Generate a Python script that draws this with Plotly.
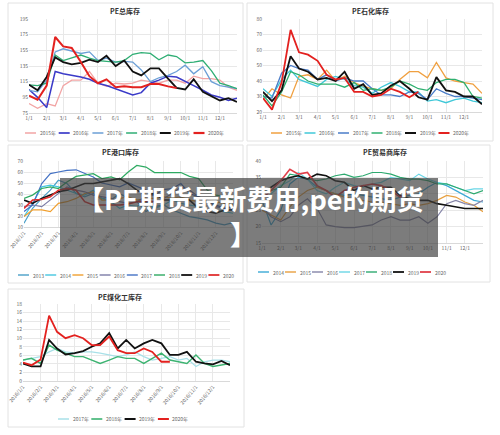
import plotly.graph_objects as go

# ---------------- data ----------------
DATES = ["2020-01-01", "2020-01-16", "2020-02-01", "2020-02-16", "2020-03-01", "2020-03-16",
         "2020-04-01", "2020-04-16", "2020-05-01", "2020-05-16", "2020-06-01", "2020-06-16",
         "2020-07-01", "2020-07-16", "2020-08-01", "2020-08-16", "2020-09-01", "2020-09-16",
         "2020-10-01", "2020-10-16", "2020-11-01", "2020-11-16", "2020-12-01", "2020-12-16",
         "2020-12-31"]
MONTH_TICKS = ["2020-%02d-01" % m for m in range(1, 13)]
TICK_MD = ["1/1", "2/1", "3/1", "4/1", "5/1", "6/1", "7/1", "8/1", "9/1", "10/1", "11/1", "12/1"]
TICK_2018 = ["2018/1/1", "2018/2/1", "2018/3/1", "2018/4/1", "2018/5/1", "2018/6/1",
             "2018/7/1", "2018/8/1", "2018/9/1", "2018/10/1", "2018/11/1", "2018/12/1"]
TICK_2016 = ["2016/1/1", "2016/2/1", "2016/3/1", "2016/4/1", "2016/5/1", "2016/6/1",
             "2016/7/1", "2016/8/1", "2016/9/1", "2016/10/1", "2016/11/1", "2016/12/1"]

# PE总库存
P1_2015 = [87, 81, 87, 84, 110, 117, 117, 128, 113, 109, 113, 112, 113, 117, 115, 113, 117, 117, 113, 122, 119, 119, 117, 108, 104]
P1_2016 = [105, 95, 82, 128, 125, 123, 121, 118, 113, 110, 106, 102, 98, 101, 113, 117, 122, 121, 115, 110, 104, 98, 95, 91, 94]
P1_2017 = [104, 102, 117, 153, 157, 154, 151, 153, 142, 145, 140, 141, 140, 130, 115, 120, 123, 128, 136, 125, 134, 115, 110, 108, 106]
P1_2018 = [111, 110, 113, 149, 142, 145, 149, 145, 142, 141, 140, 142, 150, 152, 151, 143, 149, 147, 139, 140, 142, 129, 113, 110, 106]
P1_2019 = [111, 104, 121, 146, 140, 137, 139, 143, 140, 148, 135, 142, 128, 123, 132, 132, 119, 107, 105, 118, 102, 97, 91, 94, 89]
P1_2020 = [97, 92, 110, 172, 160, 158, 140, 122, 113, 118, 108, 109, 108, 108, 112, 112, 109, 107]

# PE石化库存
P2_2015 = [28, 35, 31, 29, 43, 44, 41, 47, 40, 43, 39, 36.5, 35, 34, 35, 41, 46, 46, 42, 52, 42, 40, 39, 38, 32]
P2_2016 = [35, 30, 41, 47, 41, 39, 36.5, 41, 43, 41, 37, 36, 32, 36, 39, 36.5, 33, 33, 27, 28, 26, 28, 29, 27, 26]
P2_2017 = [30, 29, 45, 50, 48, 47, 41, 44, 40, 42, 40, 40, 35, 31, 31, 30, 33, 32, 28, 35, 32, 30, 30, 29, 28]
P2_2018 = [31, 24, 33, 46, 44, 40, 38, 38, 38, 36, 39, 34, 35, 34, 36, 40, 38, 35, 34, 39, 41, 41, 39, 30, 29]
P2_2019 = [33, 27, 34, 56, 48, 46, 41, 42, 40, 46, 35, 38, 31, 32, 37, 40, 35, 29.5, 28, 42.5, 34, 33, 30, 30, 25]
P2_2020 = [29, 21.5, 39, 73, 58.5, 57, 53, 44, 41, 42, 33, 33, 30, 31, 35, 33, 29.5, 33]

# PE港口库存
P3_2013 = [13.5, 27, 36, 43.5, 52.5, 49.5, 40.5, 37.5, 40.5, 36, 34.5, 40.5, 36, 33, 24, 28.5, 30, 25.5, 22.5, 19.5, 18, 16.5, 13.5, 12, 14]
P3_2014 = [19.5, 31.5, 46.5, 48, 46.5, 43.5, 40.5, 39, 43.5, 36, 33, 27, 30, 28.5, 33, 27, 30, 34.5, 31.5, 30, 28.5, 24, 25.5, 24, 22.5]
P3_2015 = [19.5, 25.5, 25.5, 24, 31.5, 33, 36, 40.5, 42, 34.5, 34.5, 36, 37.5, 34.5, 36, 36, 37.5, 36, 37.5, 34.5, 33, 34.5, 33, 31.5, 30]
P3_2016 = [28.5, 30, 28.5, 34.5, 40.5, 46.5, 43.5, 42, 39, 37.5, 36, 33, 31.5, 33, 37.5, 39, 36, 40.5, 46.5, 43.5, 37.5, 34.5, 28.5, 27, 28.5]
P3_2017 = [24, 30, 49.5, 58.5, 60, 61.5, 62, 58.5, 55.5, 50, 48, 46.5, 50, 46.5, 43.5, 39, 44, 45, 49.5, 40.5, 37.5, 34.5, 30, 27, 25.5]
P3_2018 = [36, 39, 45, 46.5, 45, 51, 56, 57, 58.5, 54, 55.5, 53, 60, 66, 64.5, 59.5, 59.5, 60, 59.5, 56, 54, 43.5, 39, 37.5, 34.5]
P3_2019 = [34.5, 31.5, 36, 39, 42, 43.5, 46.5, 49.5, 49.5, 51, 52, 54, 49.5, 43.5, 39, 40.5, 34.5, 34.5, 36, 34.5, 27, 24, 22.5, 25.5, 25.5]
P3_2020 = [27, 34.5, 35, 37.5, 43.5, 45, 43.5, 33, 30, 30, 30, 30, 31, 33, 33.5, 33, 34.5]

# PE贸易商库存
P4_2014 = [28, 20.5, 25, 33, 35, 34.5, 32, 31, 30, 29.5, 30, 29.5, 29, 28.5, 28, 29, 29.5, 30, 32, 33.5, 32.5, 31, 29.5, 28, 27.5]
P4_2015 = [25, 23.5, 22, 26, 29, 31, 32, 31, 30, 29, 28.5, 28, 27.5, 27.5, 27, 26.5, 27, 26.5, 27, 28, 29.5, 29, 27.5, 26.5, 24.5]
P4_2016 = [26, 23, 21.5, 23, 26.5, 28.5, 25.5, 20.5, 20, 19.7, 19.7, 20, 20.5, 22, 23, 22, 22, 23, 21, 23, 27, 28, 27, 26.5, 28]
P4_2017 = [31.5, 30, 32.5, 34, 36.5, 34.5, 31, 30, 32, 33.5, 32.5, 32, 33, 33.5, 35, 34.5, 34, 36, 34.5, 33.5, 33, 32, 31, 31.5, 31.5]
P4_2018 = [30, 31, 32, 36, 35.5, 34.5, 34, 34.5, 35.5, 36, 35, 35.5, 36.5, 36.5, 36, 35, 34.5, 34.5, 34, 33, 33, 32, 31, 30, 31]
P4_2019 = [31, 32, 34, 35, 35.5, 34.5, 36, 35.5, 34, 33.5, 31, 32.5, 31.5, 32, 32, 29.5, 28.5, 28, 28, 27, 26.5, 26, 25.5, 25.5, 25.5]
P4_2020 = [28.5, 31, 34, 37.5, 36, 36.5, 32.5, 31, 29, 31, 32, 32.5, 33, 32.5, 31, 29, 30.5, 31]

# PE煤化工库存
P5_2017 = [4.9, 5.3, 5.7, 6.8, 7.6, 6.8, 6.5, 6.8, 6.8, 6.5, 6.1, 5.7, 6.1, 6.8, 5.7, 4.9, 5.3, 5.7, 4.9, 5.3, 3.4, 4.5, 4.9, 4.9, 4.5]
P5_2018 = [4.9, 5.3, 4.1, 8.4, 7.2, 6.5, 5.7, 5.7, 4.9, 4.1, 4.9, 5.7, 5.3, 5.3, 4.1, 5.3, 6.5, 4.9, 4.5, 4.1, 6.1, 4.1, 3.4, 3.7, 4.1]
P5_2019 = [4.1, 3.4, 3.4, 9.6, 7.6, 6.2, 6.5, 7, 8, 8.8, 11.2, 7.6, 9.6, 7.6, 8.8, 9.6, 8.8, 6.1, 6.1, 6.8, 4.5, 4.1, 3.9, 4.7, 3.7]
P5_2020 = [4.3, 3.7, 5, 15.3, 11.5, 10, 10.7, 10, 8.4, 8.4, 10.4, 7.2, 6.5, 6.5, 7.6, 6.8, 4.5, 4.5]

TITLES = ["PE总库存", "PE石化库存", "PE港口库存", "PE贸易商库存", "PE煤化工库存"]

# ---------------- layout helpers ----------------
W, H = 500, 435
FONT = "Noto Sans CJK SC, Noto Sans, sans-serif"


def px(x):
    return x / W


def py(y):
    return 1 - y / H


panels = [
    dict(box=(8, 3, 243, 141), plot=(29, 19, 237, 113), yr=[75, 195], dt=20, ticks=TICK_MD, angle=0,
         title=(125, 11), leg=(25, 133, 33.7),
         series=[("2015年", P1_2015, "#f2a4a4", 1.3), ("2016年", P1_2016, "#3a3ac8", 1.5),
                 ("2017年", P1_2017, "#6b9fd6", 1.3), ("2018年", P1_2018, "#2fae74", 1.3),
                 ("2019年", P1_2019, "#111111", 1.8), ("2020年", P1_2020, "#e3211f", 2.0)]),
    dict(box=(247, 3, 493, 141), plot=(263, 19, 482, 112), yr=[20, 80], dt=10, ticks=TICK_MD, angle=0,
         title=(370, 11), leg=(271, 133, 33.5),
         series=[("2015年", P2_2015, "#f0a040", 1.3), ("2016年", P2_2016, "#40c8d8", 1.3),
                 ("2017年", P2_2017, "#4a7cc8", 1.3), ("2018年", P2_2018, "#2fb070", 1.3),
                 ("2019年", P2_2019, "#111111", 1.8), ("2020年", P2_2020, "#e3211f", 1.8)]),
    dict(box=(8, 145, 243, 283), plot=(24, 161, 233, 227), yr=[10, 70], dt=10, ticks=TICK_2018, angle=-50,
         title=(120, 152), leg=(18, 275, 27.2),
         series=[("2013", P3_2013, "#4a9fc8", 1.2), ("2014", P3_2014, "#45c6e0", 1.2),
                 ("2015", P3_2015, "#f0a030", 1.2), ("2016", P3_2016, "#7c7ca6", 1.2),
                 ("2017", P3_2017, "#4472c4", 1.2), ("2018", P3_2018, "#2eaa62", 1.2),
                 ("2019", P3_2019, "#111111", 1.6), ("2020", P3_2020, "#e03030", 1.6)]),
    dict(box=(247, 145, 490, 282), plot=(262, 161, 483, 243), yr=[15, 40], dt=5, ticks=TICK_MD, angle=0,
         title=(385, 152), leg=(258, 272, 27.0),
         series=[("2014", P4_2014, "#3ba9d6", 1.2), ("2015", P4_2015, "#e8a040", 1.2),
                 ("2016", P4_2016, "#8585a8", 1.2), ("2017", P4_2017, "#6ad6e6", 1.2),
                 ("2018", P4_2018, "#2eaa70", 1.2), ("2019", P4_2019, "#111111", 1.6),
                 ("2020", P4_2020, "#e0404a", 1.6)]),
    dict(box=(8, 289, 244, 427), plot=(23, 304, 230, 381), yr=[0, 18], dt=2, ticks=TICK_2016, angle=-50,
         title=(120, 297), leg=(58, 419, 33.3),
         series=[("2017年", P5_2017, "#a8e0e8", 1.3), ("2018年", P5_2018, "#3cb371", 1.4),
                 ("2019年", P5_2019, "#111111", 1.8), ("2020年", P5_2020, "#e3211f", 1.8)]),
]

fig = go.Figure()
shapes = []
annotations = []
layout_axes = {}

for i, p in enumerate(panels, start=1):
    xa = "x" if i == 1 else "x%d" % i
    ya = "y" if i == 1 else "y%d" % i
    for name, vals, color, wid in p["series"]:
        fig.add_trace(go.Scatter(x=DATES[:len(vals)], y=vals, mode="lines", name=name,
                                 line=dict(color=color, width=wid), xaxis=xa, yaxis=ya,
                                 showlegend=False, hoverinfo="skip"))
    x0, y0, x1, y1 = p["plot"]
    layout_axes["xaxis" if i == 1 else "xaxis%d" % i] = dict(
        domain=[px(x0), px(x1)], anchor=ya, range=["2020-01-01", "2020-12-31"], type="date",
        tickmode="array", tickvals=MONTH_TICKS, ticktext=p["ticks"], tickangle=p["angle"],
        showgrid=True, gridcolor="#e8e8e8", gridwidth=0.8, zeroline=False,
        showline=True, linecolor="#d9d9d9", linewidth=0.8, ticks="",
        tickfont=dict(size=5, color="#666666", family=FONT), automargin=False, fixedrange=True)
    layout_axes["yaxis" if i == 1 else "yaxis%d" % i] = dict(
        domain=[py(y1), py(y0)], anchor=xa, range=p["yr"], dtick=p["dt"], tick0=p["yr"][0],
        showgrid=True, gridcolor="#e8e8e8", gridwidth=0.8, zeroline=False, showline=False,
        ticks="", tickfont=dict(size=5, color="#666666", family=FONT), automargin=False,
        fixedrange=True)
    # panel border
    bx0, by0, bx1, by1 = p["box"]
    shapes.append(dict(type="rect", xref="paper", yref="paper", x0=px(bx0), x1=px(bx1),
                       y0=py(by1), y1=py(by0), line=dict(color="#e2e2e2", width=1),
                       fillcolor="rgba(0,0,0,0)", layer="below"))
    # title
    tx, ty = p["title"]
    annotations.append(dict(text="<b>%s</b>" % TITLES[i - 1], x=px(tx), y=py(ty), xref="paper",
                            yref="paper", showarrow=False, xanchor="center", yanchor="middle",
                            font=dict(size=7, color="#333333", family=FONT)))
    # legend
    lx, ly, step = p["leg"]
    for k, (name, vals, color, wid) in enumerate(p["series"]):
        sx = lx + k * step
        shapes.append(dict(type="line", xref="paper", yref="paper", x0=px(sx), x1=px(sx + 11),
                           y0=py(ly), y1=py(ly), line=dict(color=color, width=wid + 0.2)))
        annotations.append(dict(text=name, x=px(sx + 12.5), y=py(ly), xref="paper", yref="paper",
                                showarrow=False, xanchor="left", yanchor="middle",
                                font=dict(size=5, color="#666666", family=FONT)))

# overlay banner
shapes.append(dict(type="rect", xref="paper", yref="paper", x0=px(60), x1=px(438),
                   y0=py(257), y1=py(178), fillcolor="rgba(62,62,62,0.68)",
                   line=dict(width=0), layer="above"))
annotations.append(dict(text="<b>【PE期货最新费用,pe的期货</b>", x=px(250), y=py(198), xref="paper",
                        yref="paper", showarrow=False, xanchor="center", yanchor="middle",
                        font=dict(size=27, color="#ffffff", family=FONT)))
annotations.append(dict(text="<b>】</b>", x=px(243), y=py(233), xref="paper",
                        yref="paper", showarrow=False, xanchor="center", yanchor="middle",
                        font=dict(size=27, color="#ffffff", family=FONT)))

fig.update_layout(width=W, height=H, margin=dict(l=0, r=0, t=0, b=0),
                  paper_bgcolor="#ffffff", plot_bgcolor="#ffffff", showlegend=False,
                  shapes=shapes, annotations=annotations, font=dict(family=FONT), **layout_axes)

fig.write_html("out.html", config={"displayModeBar": False},
               post_script="document.body.style.margin='0';document.body.style.overflow='hidden';")
